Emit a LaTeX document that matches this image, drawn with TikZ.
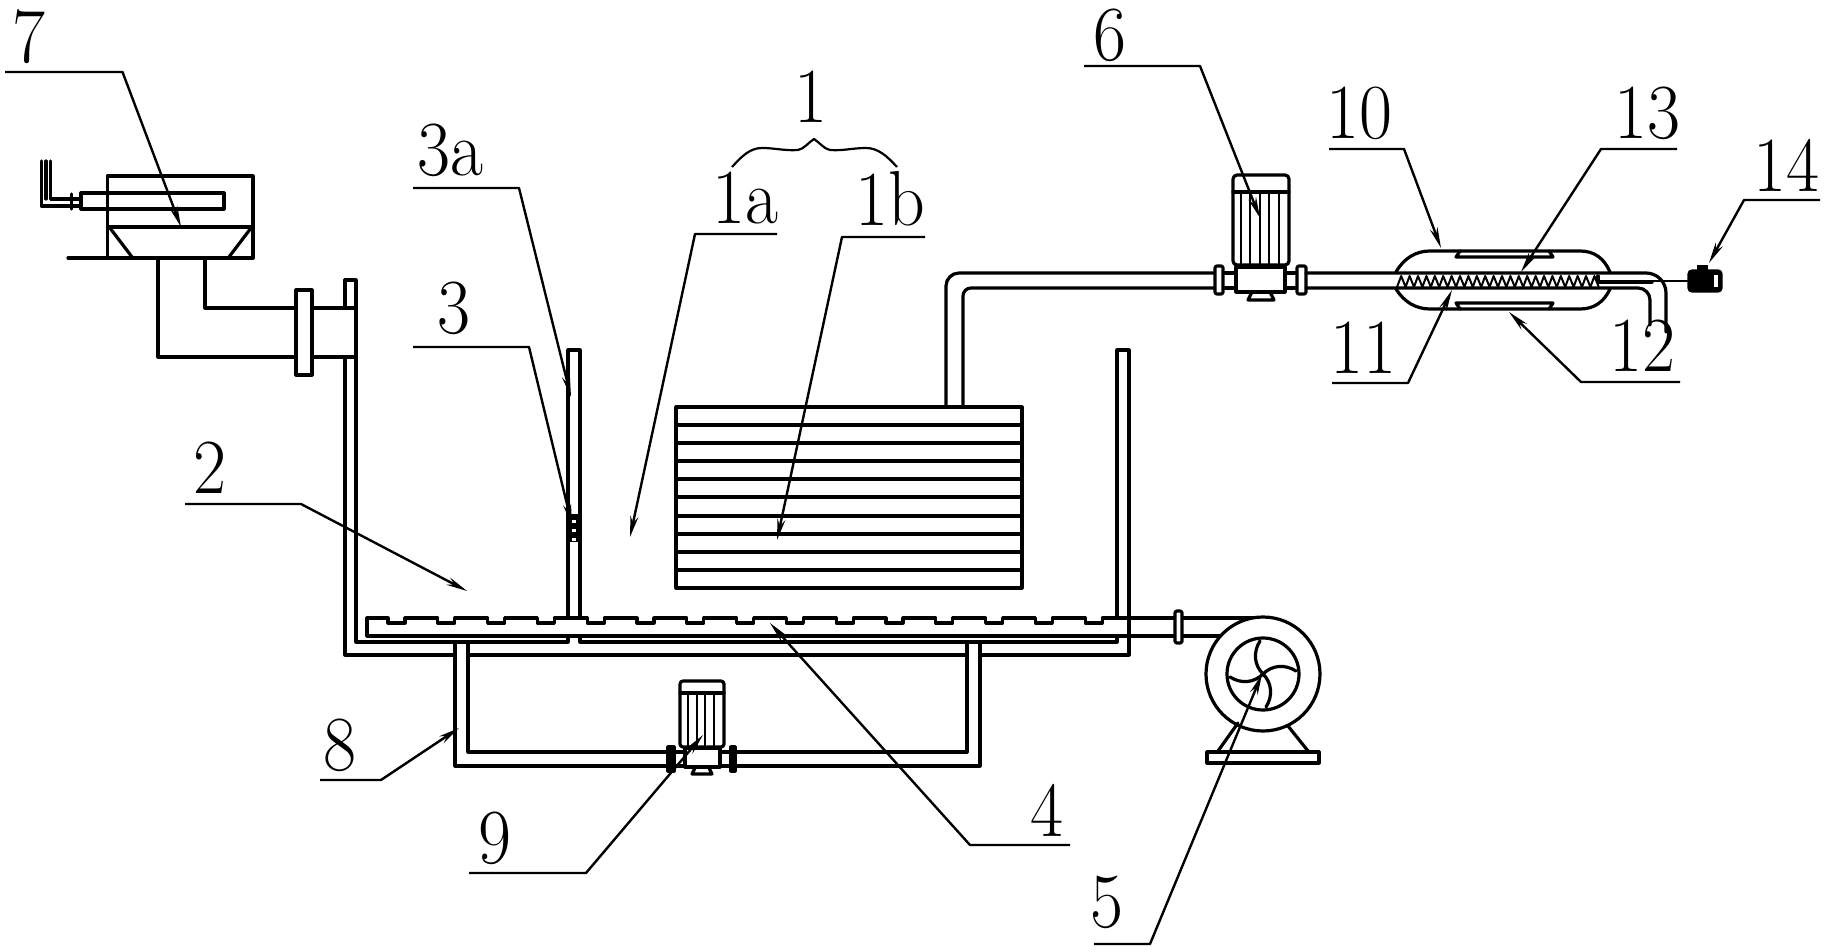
\documentclass[tikz,border=0pt]{standalone}
\usetikzlibrary{arrows.meta}
\tikzset{
  pipe/.style={line width=3.2pt,line join=round,line cap=round},
  thinpipe/.style={line width=2pt,line join=round},
  flange/.style={pipe,fill=white,rounded corners=2pt},
  leader/.style={line width=2.4pt,line join=round,-{Stealth[length=21pt,width=8pt]}},
  partlabel/.style={inner sep=0pt,font=\fontsize{78}{78}\selectfont,xscale=.92,transform shape}
}
\begin{document}
\begin{tikzpicture}[x=1pt,y=-1pt]
\useasboundingbox (0,0) rectangle (1832,952);
\coordinate (fan) at (1263,674);
% tank walls
\draw[pipe] (345,308) -- (345,280) -- (356,280) -- (356,642) -- (568,642) -- (568,637);
\draw[pipe] (345,357) -- (345,655) -- (455,655);
\draw[pipe] (468,655) -- (967,655);
\draw[pipe] (980,655) -- (1129,655) -- (1129,350) -- (1117,350) -- (1117,618);
\draw[pipe] (1117,637) -- (1117,642) -- (580,642) -- (580,637);
\draw[pipe] (568,618) -- (568,350) -- (580,350) -- (580,618);
% aeration pipe
\draw[pipe] (1220,636) -- (367,636) -- (367,618)
  \foreach \i in {0,...,14}{ -- ({388+49.8*\i},618) -- ({388+49.8*\i},623) -- ({405+49.8*\i},623) -- ({405+49.8*\i},618)}
  -- (1263,618);
\draw[flange] (1175,611) rectangle (1182,643);
% blower
\draw[pipe,fill=white] (fan) circle[radius=57];
\draw[pipe] (fan) circle[radius=36];
\foreach \a in {0,90,180,270}
  \draw[pipe,shift={(fan)},rotate=\a] (0,0) .. controls (-9,-9) and (-10,-22) .. (-3,-33);
\draw[pipe] (1207,752) rectangle (1319,763);
\draw[pipe] (1218,751) -- (1238,723);
\draw[pipe] (1308,751) -- (1288,726);
% circulation pipe and pump
\draw[pipe] (455,643) -- (455,766) -- (667,766);
\draw[pipe] (468,643) -- (468,752) -- (667,752);
\draw[pipe] (736,766) -- (980,766) -- (980,643);
\draw[pipe] (736,752) -- (967,752) -- (967,643);
\foreach \y in {752,766}{
  \draw[pipe] (675,\y) -- (685,\y);
  \draw[pipe] (720,\y) -- (730,\y);
}
\draw[pipe,fill=black] (668,747) rectangle (674,771);
\draw[pipe,fill=black] (731,747) rectangle (735,771);
\draw[pipe,rounded corners=3pt] (680,747) -- (680,681) -- (724,681) -- (724,747) -- cycle;
\draw[pipe] (680,693) -- (724,693);
\foreach \x in {688,696.5,705,714}
  \draw[thinpipe] (\x,693) -- (\x,747);
\draw[pipe] (685,748) rectangle (720,767);
\draw[pipe] (695,768) -- (692,774) -- (712,774) -- (709,768);
% heat exchanger
\draw[pipe] (676,407) rectangle (1022,588);
\foreach \y in {425,443,461,479,497,516,534,552,570}
  \draw[pipe] (676,\y) -- (1022,\y);
% pipe to dehumidifier
\draw[pipe,rounded corners=13pt] (946,407) -- (946,273) -- (1215,273);
\draw[pipe,rounded corners=8pt] (963,407) -- (963,288) -- (1215,288);
\foreach \y in {273,288}{
  \draw[pipe] (1223,\y) -- (1236,\y);
  \draw[pipe] (1285,\y) -- (1297,\y);
}
\draw[flange] (1215,266) rectangle (1223,294);
\draw[flange] (1297,266) rectangle (1306,294);
\draw[pipe,rounded corners=4pt] (1233,265) -- (1233,175) -- (1289,175) -- (1289,265) -- cycle;
\draw[pipe] (1233,192) -- (1289,192);
\foreach \x in {1241,1250,1260,1269,1279}
  \draw[thinpipe] (\x,192) -- (\x,265);
\draw[pipe] (1236,267) rectangle (1285,292);
\draw[pipe] (1252,292) -- (1248,300) -- (1274,300) -- (1270,292);
% vessel
\draw[pipe,rounded corners=20pt] (1306,273) -- (1666,273) -- (1666,332);
\draw[pipe,rounded corners=12pt] (1306,288) -- (1650,288) -- (1650,325);
\draw[pipe] (1396,272) .. controls (1404,258) and (1416,251) .. (1430,251) -- (1580,251) .. controls (1594,251) and (1604,258) .. (1610,272);
\draw[pipe] (1396,289) .. controls (1404,302) and (1416,309) .. (1430,309) -- (1580,309) .. controls (1594,309) and (1604,302) .. (1610,289);
\draw[pipe] (1460,251) -- (1456,257) -- (1553,257) -- (1549,251);
\draw[pipe] (1460,309) -- (1456,303) -- (1553,303) -- (1549,309);
\draw[thinpipe] (1397,287) \foreach \i in {0,...,23}{ -- ({1401.2+8.4*\i},276) -- ({1405.6+8.4*\i},287)};
\draw[pipe] (1598,276) -- (1598,282) -- (1652,282);
\draw[thinpipe] (1652,281) -- (1690,281);
\draw[pipe,fill=black,rounded corners=3pt] (1689,271) rectangle (1721,291);
\fill (1697,265) rectangle (1708,271);
\fill[white] (1714,275) rectangle (1718,287);
% bag filter feed box
\draw[pipe] (107.5,258) -- (107.5,176) -- (253,176) -- (253,258);
\draw[pipe] (68,258) -- (253,258);
\draw[pipe] (107.5,227) -- (253,227);
\draw[pipe] (110,228) -- (132,257);
\draw[pipe] (251,228) -- (229,257);
\draw[pipe] (81,193) rectangle (224,209);
\draw[pipe] (41.5,161) -- (41.5,206) -- (81,206);
\draw[pipe] (50.6,161) -- (50.6,199) -- (81,199);
\draw[pipe] (46,161) -- (46,199);
\draw[pipe] (71.5,194) -- (71.5,209);
\draw[pipe] (158,258) -- (158,357) -- (296,357);
\draw[pipe] (205,258) -- (205,308) -- (296,308);
\draw[pipe] (296,290) rectangle (312,375);
\foreach \y in {308,357}
  \draw[pipe] (312,\y) -- (356,\y);
% valve on the partition
\fill (567,514) rectangle (580,542);
\foreach \y in {520,529,538}
  \fill[white] (571.5,\y) rectangle (575.5,\y+3);
% leaders
\foreach \n/\sx/\kx/\ky/\tx/\ty in {
  7/5/122.5/72/181/227,
  a/413/519/188/571/397,
  c/413/529/347/572/525,
  b/185/301/504/467/591,
  d/777/695/234/630/537,
  e/925/842/237/777/540,
  f/1084/1200/66/1260/218,
  g/1329/1404/149/1441/248,
  h/1677/1601/149/1521/272,
  i/1820/1744/200/1709/263,
  j/1332/1408/383/1452/290,
  k/1680/1581/382/1509/312,
  l/320/381/780/459/728,
  m/469/586/873/703/735,
  o/1070/970/845/770/623,
  p/1094/1150/944/1262/674}{
  \coordinate (start\n) at (\sx,\ky);
  \coordinate (knee\n) at (\kx,\ky);
  \coordinate (tip\n) at (\tx,\ty);
}
\draw[leader] (start7) -- (knee7) -- (tip7);
\draw[leader] (starta) -- (kneea) -- (tipa);
\draw[leader] (startc) -- (kneec) -- (tipc);
\draw[leader] (startb) -- (kneeb) -- (tipb);
\draw[leader] (startd) -- (kneed) -- (tipd);
\draw[leader] (starte) -- (kneee) -- (tipe);
\draw[leader] (startf) -- (kneef) -- (tipf);
\draw[leader] (startg) -- (kneeg) -- (tipg);
\draw[leader] (starth) -- (kneeh) -- (tiph);
\draw[leader] (starti) -- (kneei) -- (tipi);
\draw[leader] (startj) -- (kneej) -- (tipj);
\draw[leader] (startk) -- (kneek) -- (tipk);
\draw[leader] (startl) -- (kneel) -- (tipl);
\draw[leader] (startm) -- (kneem) -- (tipm);
\draw[leader] (starto) -- (kneeo) -- (tipo);
\draw[leader] (startp) -- (kneep) -- (tipp);
% brace under the 1
\draw[thinpipe,line width=2.2pt] (732,167) .. controls (742,156) and (750,148) .. (762,148) .. controls (775,148) and (785,151) .. (798,150) .. controls (804,149) and (809,142) .. (814,139) .. controls (819,142) and (824,149) .. (830,150) .. controls (843,151) and (853,148) .. (866,148) .. controls (878,148) and (887,156) .. (897,167);
% labels
\node[partlabel] (l1) at (811,97) {1};
\node[partlabel] (l1a) at (745,198) {1a};
\node[partlabel] (l1b) at (890,199) {1b};
\node[partlabel] (l2) at (210,468) {2};
\node[partlabel] (l3) at (454,308) {3};
\node[partlabel] (l3a) at (450,150) {3a};
\node[partlabel] (l4) at (1047,810) {4};
\node[partlabel] (l5) at (1107,902) {5};
\node[partlabel] (l6) at (1110,35) {6};
\node[partlabel] (l7) at (29,37) {7};
\node[partlabel] (l8) at (340,745) {8};
\node[partlabel] (l9) at (495,838) {9};
\node[partlabel] (l10) at (1359,113) {10};
\node[partlabel] (l11) at (1363,348) {11};
\node[partlabel] (l12) at (1642,346) {12};
\node[partlabel] (l13) at (1647,113) {13};
\node[partlabel] (l14) at (1786,165) {14};
\end{tikzpicture}
\end{document}
